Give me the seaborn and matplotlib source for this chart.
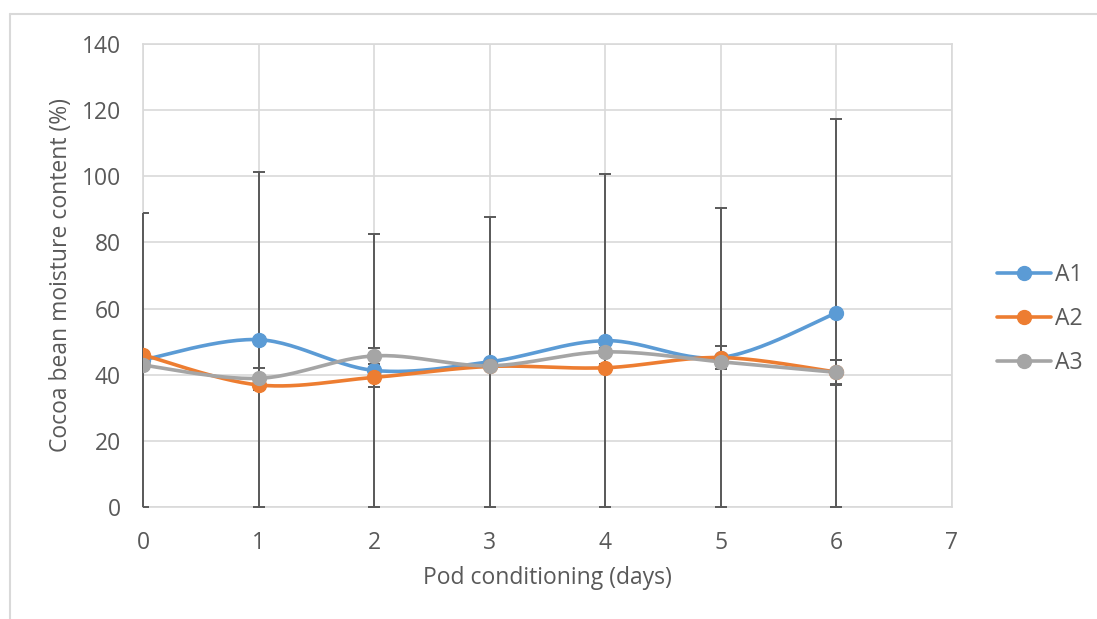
import numpy as np
import pandas as pd
import matplotlib
matplotlib.use("Agg")
import matplotlib.pyplot as plt
from matplotlib.lines import Line2D
from matplotlib.patches import Rectangle
import seaborn as sns

# data
days = [0, 1, 2, 3, 4, 5, 6]
a1 = [44.5, 50.6, 41.3, 43.9, 50.3, 45.2, 58.7]
a2 = [46.0, 36.9, 39.2, 42.5, 42.1, 45.2, 40.8]
a3 = [42.9, 38.9, 45.7, 42.7, 46.9, 43.9, 40.7]
a1_err = [44.5, 50.6, 41.3, 43.9, 50.3, 45.2, 58.7]
a2_err = [1.2, 1.5, 3.0, 1.2, 1.2, 3.4, 3.7]
a3_err = [1.2, 3.2, 2.5, 1.2, 1.2, 1.2, 3.7]
series_names = ["A1", "A2", "A3"]
colors = ["#5B9BD5", "#ED7D31", "#A5A5A5"]


def excel_smooth(x, y, n=30):
    # Bezier curve like Excel's "smoothed line" option
    x = np.asarray(x, float)
    y = np.asarray(y, float)
    px = np.concatenate([[x[0]], x, [x[-1]]])
    py = np.concatenate([[y[0]], y, [y[-1]]])
    t = np.linspace(0, 1, n)
    xs, ys = [], []
    for i in range(1, len(px) - 2):
        p1 = np.array([px[i], py[i]])
        p2 = np.array([px[i + 1], py[i + 1]])
        c1 = p1 + (p2 - np.array([px[i - 1], py[i - 1]])) / 6
        c2 = p2 - (np.array([px[i + 2], py[i + 2]]) - p1) / 6
        pts = ((1 - t) ** 3)[:, None] * p1 + (3 * (1 - t) ** 2 * t)[:, None] * c1 \
            + (3 * (1 - t) * t ** 2)[:, None] * c2 + (t ** 3)[:, None] * p2
        xs.extend(pts[:, 0])
        ys.extend(pts[:, 1])
    return xs, ys


sns.set_theme(style="white")
plt.rcParams["font.family"] = ["Open Sans", "DejaVu Sans"]
FS = 16.5

fig = plt.figure(figsize=(10.97, 6.19), dpi=100)
ax = fig.add_axes([143 / 1097, 1 - 507 / 619, 809 / 1097, 463 / 619])

# outer chart-area border (cropped on right and bottom)
border = dict(color="#D9D9D9", lw=1.5, transform=fig.transFigure)
fig.add_artist(Line2D([10 / 1097, 1], [1 - 14 / 619, 1 - 14 / 619], **border))
fig.add_artist(Line2D([10 / 1097, 10 / 1097], [0, 1 - 14 / 619], **border))

all_vals = [a1, a2, a3]
all_errs = [a1_err, a2_err, a3_err]

# caps may spill past the x axis line but not past x = 0 / 7
cap_clip = Rectangle((0, -0.03), 1, 1.06, transform=ax.transAxes,
                     fill=False, visible=False)
ax.add_patch(cap_clip)

# error bars (lower limit stops at zero), drawn above the light spines
for vals, errs in zip(all_vals, all_errs):
    lower = [min(e, v) for v, e in zip(vals, errs)]
    _, caps, bars = ax.errorbar(days, vals, yerr=[lower, errs], fmt="none",
                                ecolor="#595959", elinewidth=1.4, capsize=4.5,
                                capthick=1.4, zorder=2.7)
    for b in bars:
        b.set_clip_on(False)
    for c in caps:
        c.set_clip_path(cap_clip)

# smoothed lines
frames = []
for name, vals in zip(series_names, all_vals):
    sx, sy = excel_smooth(days, vals)
    frames.append(pd.DataFrame({"day": sx, "value": sy, "series": name}))
curves = pd.concat(frames, ignore_index=True)
sns.lineplot(data=curves, x="day", y="value", hue="series", units="series",
             estimator=None, sort=False, palette=colors, linewidth=2.6,
             legend=False, ax=ax, zorder=3)

# markers
for name, vals, c in zip(series_names, all_vals, colors):
    ax.plot(days, vals, ls="none", marker="o", ms=10, color=c, zorder=4)

ax.set_xlim(0, 7)
ax.set_ylim(0, 140)
ax.set_xticks(range(0, 8))
ax.set_yticks(range(0, 141, 20))
ax.grid(True, color="#D9D9D9", lw=1.2)
for s in ax.spines.values():
    s.set_color("#D9D9D9")
    s.set_linewidth(1.2)
ax.tick_params(length=0, labelsize=FS, labelcolor="#595959")
ax.tick_params(axis="y", pad=16)
ax.tick_params(axis="x", pad=17)

ax.set_xlabel("Pod conditioning (days)", fontsize=FS, color="#595959", va="center")
ax.set_ylabel("Cocoa bean moisture content (%)", fontsize=FS, color="#595959", va="center")
ax.xaxis.set_label_coords(0.5, (507 - 578) / 463)
ax.yaxis.set_label_coords((61 - 143) / 809, 0.5)

handles = [Line2D([0], [0], color=c, lw=2.6, marker="o", ms=10) for c in colors]
fig.legend(handles, series_names, loc="center left",
           bbox_to_anchor=(997 / 1097, 1 - 319 / 619), frameon=False,
           fontsize=FS, labelcolor="#595959", handlelength=2.35,
           handletextpad=0.2, labelspacing=0.87, borderpad=0, borderaxespad=0)

fig.savefig("out.png", dpi=100, facecolor="white")
